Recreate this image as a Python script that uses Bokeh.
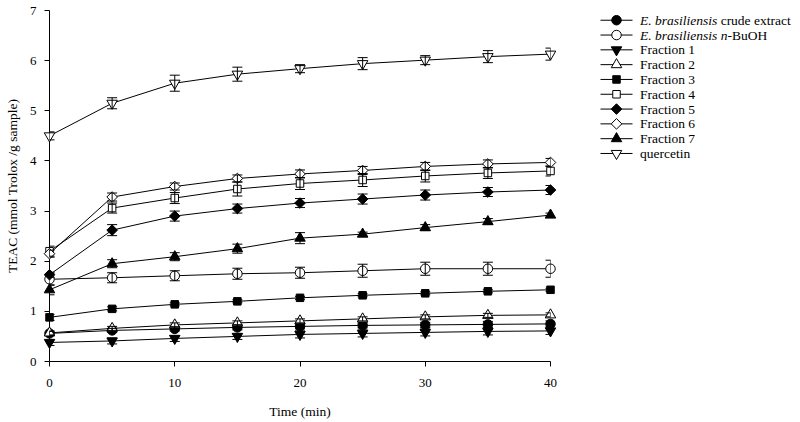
import math
from bokeh.plotting import figure
from bokeh.models import Range1d, FixedTicker, Whisker, ColumnDataSource, TeeHead
from bokeh.layouts import row
from bokeh.embed import file_html
from bokeh.resources import INLINE
from bokeh.core.properties import value

# ---------------- data ----------------
time_min = [0, 5, 10, 15, 20, 25, 30, 35, 40]

crude_extract = [0.56, 0.62, 0.65, 0.68, 0.70, 0.72, 0.73, 0.74, 0.75]
crude_extract_err = [0.04, 0.04, 0.04, 0.05, 0.05, 0.05, 0.05, 0.06, 0.06]
nbuoh = [1.64, 1.67, 1.71, 1.75, 1.77, 1.81, 1.85, 1.85, 1.85]
nbuoh_err = [0.12, 0.10, 0.10, 0.11, 0.11, 0.13, 0.13, 0.13, 0.17]
fraction1 = [0.38, 0.41, 0.46, 0.50, 0.54, 0.56, 0.58, 0.60, 0.61]
fraction1_err = [0.06, 0.06, 0.06, 0.06, 0.07, 0.07, 0.07, 0.07, 0.07]
fraction2 = [0.57, 0.66, 0.73, 0.77, 0.81, 0.85, 0.89, 0.92, 0.93]
fraction2_err = [0.04, 0.04, 0.04, 0.04, 0.04, 0.04, 0.04, 0.04, 0.04]
fraction3 = [0.88, 1.05, 1.14, 1.20, 1.27, 1.32, 1.36, 1.40, 1.43]
fraction3_err = [0.06, 0.04, 0.03, 0.03, 0.03, 0.03, 0.03, 0.03, 0.03]
fraction4 = [2.20, 3.06, 3.26, 3.44, 3.55, 3.62, 3.70, 3.76, 3.80]
fraction4_err = [0.10, 0.10, 0.11, 0.14, 0.12, 0.13, 0.12, 0.11, 0.10]
fraction5 = [1.73, 2.62, 2.90, 3.05, 3.16, 3.24, 3.32, 3.38, 3.42]
fraction5_err = [0.05, 0.11, 0.10, 0.09, 0.09, 0.10, 0.10, 0.09, 0.09]
fraction6 = [2.15, 3.28, 3.49, 3.65, 3.74, 3.81, 3.89, 3.94, 3.97]
fraction6_err = [0.07, 0.08, 0.07, 0.07, 0.08, 0.08, 0.08, 0.08, 0.08]
fraction7 = [1.43, 1.95, 2.09, 2.25, 2.46, 2.54, 2.67, 2.79, 2.92]
fraction7_err = [0.10, 0.08, 0.08, 0.09, 0.11, 0.04, 0.06, 0.06, 0.04]
quercetin = [4.50, 5.15, 5.55, 5.73, 5.84, 5.94, 6.01, 6.08, 6.13]
quercetin_err = [0.08, 0.11, 0.16, 0.14, 0.08, 0.12, 0.09, 0.12, 0.12]

x_ticks = [0, 10, 20, 30, 40]
y_ticks = [0, 1, 2, 3, 4, 5, 6, 7]

# legend labels: italic part + plain part
legend_italic = ["E. brasiliensis", "E. brasiliensis n", "", "", "", "", "", "", "", ""]
legend_plain = [" crude extract", "-BuOH", "Fraction 1", "Fraction 2", "Fraction 3",
                "Fraction 4", "Fraction 5", "Fraction 6", "Fraction 7", "quercetin"]

# series: (values, errors, marker, filled, angle, size)
series = [
    (crude_extract, crude_extract_err, "circle", True, 0.0, 9.5),
    (nbuoh, nbuoh_err, "circle", False, 0.0, 9.5),
    (fraction1, fraction1_err, "inverted_triangle", True, 0.0, 10.5),
    (fraction2, fraction2_err, "triangle", False, 0.0, 10.5),
    (fraction3, fraction3_err, "square", True, 0.0, 7.5),
    (fraction4, fraction4_err, "square", False, 0.0, 7.5),
    (fraction5, fraction5_err, "square", True, math.pi / 4, 7.5),
    (fraction6, fraction6_err, "square", False, math.pi / 4, 7.5),
    (fraction7, fraction7_err, "triangle", True, 0.0, 10.5),
    (quercetin, quercetin_err, "inverted_triangle", False, 0.0, 10.5),
]

FONT = "Liberation Serif"

# ---------------- main plot ----------------
W1, H = 575, 422
p = figure(width=W1, height=H, output_backend="svg", toolbar_location=None,
           x_range=Range1d(0, 40), y_range=Range1d(0, 7),
           min_border_left=49, min_border_right=W1 - 550, min_border_top=10,
           min_border_bottom=H - 361)
p.grid.visible = False
p.outline_line_color = None
p.background_fill_color = "white"
p.border_fill_color = "white"

for ax in (p.xaxis[0], p.yaxis[0]):
    ax.axis_line_color = "black"
    ax.axis_line_width = 1
    ax.major_tick_line_color = "black"
    ax.major_tick_out = 5
    ax.major_tick_in = 0
    ax.minor_tick_line_color = None
    ax.major_label_text_font = FONT
    ax.major_label_text_font_style = "normal"
    ax.major_label_text_font_size = "13px"
    ax.major_label_text_color = "black"
    ax.axis_label_text_font = FONT
    ax.axis_label_text_font_style = "normal"
    ax.axis_label_text_font_size = "13.5px"
    ax.axis_label_text_color = "black"

p.xaxis.ticker = FixedTicker(ticks=x_ticks)
p.yaxis.ticker = FixedTicker(ticks=y_ticks)
p.xaxis.axis_label = "Time (min)"
p.yaxis.axis_label = "TEAC (mmol Trolox /g sample)"
p.xaxis.major_label_standoff = 12
p.xaxis.axis_label_standoff = 14
p.yaxis.major_label_standoff = 8
p.yaxis.axis_label_standoff = 7

sources = []
for vals, errs, marker, filled, ang, size in series:
    src = ColumnDataSource(dict(
        x=time_min, y=vals,
        lo=[v - e for v, e in zip(vals, errs)],
        hi=[v + e for v, e in zip(vals, errs)],
    ))
    sources.append(src)
    r = p.line("x", "y", source=src, line_color="black", line_width=1)
    r.level = "overlay"
    w = Whisker(base="x", lower="lo", upper="hi", source=src,
                line_color="black", line_width=1,
                upper_head=TeeHead(size=10, line_color="black", line_width=1),
                lower_head=TeeHead(size=10, line_color="black", line_width=1))
    w.level = "overlay"
    p.add_layout(w)

for src, (vals, errs, marker, filled, ang, size) in zip(sources, series):
    s = p.scatter("x", "y", source=src, marker=marker, size=size, angle=ang,
                  line_color="black", line_width=1,
                  fill_color="black" if filled else "white")
    s.level = "overlay"

# ---------------- legend figure ----------------
LW = 800 - W1
lg = figure(width=LW, height=H, output_backend="svg", toolbar_location=None,
            x_range=Range1d(0, LW), y_range=Range1d(H, 0),
            x_axis_type=None, y_axis_type=None,
            min_border=0, min_border_left=0, min_border_right=0,
            min_border_top=0, min_border_bottom=0)
lg.grid.visible = False
lg.outline_line_color = None
lg.background_fill_color = "white"
lg.border_fill_color = "white"

# approximate Times italic glyph advance widths (em) to place plain text after italic
ITALIC_W = {"E": 0.611, ".": 0.25, " ": 0.25, "b": 0.5, "r": 0.389, "a": 0.5, "s": 0.389,
            "i": 0.278, "l": 0.278, "e": 0.444, "n": 0.5}
SPACE_W = 0.25
LEG_FS = 13.5
row0, row_step = 11.7, 17.8
line_x0, line_x1, mark_x, text_x = 600 - W1, 632 - W1, 616 - W1, 639.5 - W1

for i, (vals, errs, marker, filled, ang, size) in enumerate(series):
    yy = row0 + i * row_step
    lg.segment(x0=[line_x0], y0=[yy], x1=[line_x1], y1=[yy], line_color="black", line_width=1)
    lg.scatter(x=[mark_x], y=[yy], marker=marker, size=size, angle=ang,
               line_color="black", line_width=1, fill_color="black" if filled else "white")
    it = legend_italic[i]
    off = 0.0
    if it:
        lg.text(x=[text_x], y=[yy], text=[it], text_font=value(FONT), text_font_style="italic",
                text_font_size=f"{LEG_FS}px", text_baseline="middle", text_align="left",
                text_color="black")
        off = sum(ITALIC_W.get(c, 0.5) for c in it) * LEG_FS
    plain = legend_plain[i]
    if plain.startswith(" "):
        off += SPACE_W * LEG_FS
        plain = plain.lstrip()
    lg.text(x=[text_x + off], y=[yy], text=[plain], text_font=value(FONT),
            text_font_style="normal",
            text_font_size=f"{LEG_FS}px", text_baseline="middle", text_align="left",
            text_color="black")

layout = row(p, lg)
open("out.html", "w").write(file_html(layout, INLINE))
